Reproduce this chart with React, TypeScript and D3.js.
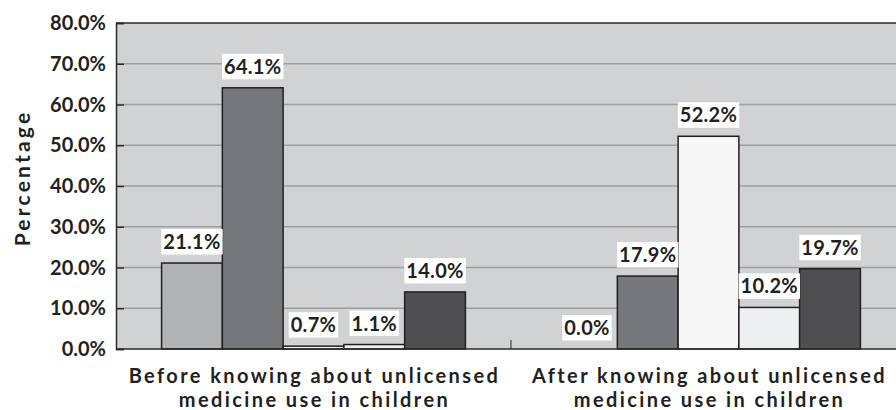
import React, { useRef, useEffect } from "react";
import * as d3 from "d3";

const categories = [
  ["Before knowing about unlicensed", "medicine use in children"],
  ["After knowing about unlicensed", "medicine use in children"],
];
const seriesKeys = ["s1", "s2", "s3", "s4", "s5"];
const beforeValues = [21.1, 64.1, 0.7, 1.1, 14.0];
const afterValues = [0.0, 17.9, 52.2, 10.2, 19.7];
const yTicks = [0, 10, 20, 30, 40, 50, 60, 70, 80];
const seriesColors = ["#b1b2b4", "#76777b", "#f7f7f7", "#eeeff1", "#4f4f52"];

const WIDTH = 896;
const HEIGHT = 410;
const FONT = "Lato, 'Open Sans', sans-serif";

const App = () => {
  const svgRef = useRef(null);

  useEffect(() => {
    const svg = d3.select(svgRef.current);
    svg.selectAll("*").remove();

    const left = 116;
    const right = 906;
    const top = 23;
    const bottom = 349;

    const groups = [beforeValues, afterValues];
    const x0 = d3.scaleBand().domain(categories.map((c, i) => String(i))).range([left, right]).padding(0);
    const x1 = d3.scaleBand().domain(seriesKeys).range([0, x0.bandwidth()]).paddingInner(0).paddingOuter(0.75);
    const y = d3.scaleLinear().domain([0, 80]).range([bottom, top]);

    // plot background
    svg
      .append("rect")
      .attr("x", left)
      .attr("y", top)
      .attr("width", right - left)
      .attr("height", bottom - top)
      .attr("fill", "#d1d2d4");

    // gridlines
    svg
      .selectAll(".grid")
      .data(yTicks.filter((t) => t > 0 && t < 80))
      .enter()
      .append("line")
      .attr("x1", left)
      .attr("x2", right)
      .attr("y1", (d) => y(d))
      .attr("y2", (d) => y(d))
      .attr("stroke", "#9d9ea0")
      .attr("stroke-width", 1.5);

    // top border
    svg
      .append("line")
      .attr("x1", left)
      .attr("x2", right)
      .attr("y1", y(80))
      .attr("y2", y(80))
      .attr("stroke", "#2b2b2d")
      .attr("stroke-width", 1.5);

    // bars
    groups.forEach((vals, gi) => {
      const gx = x0(String(gi));
      svg
        .append("g")
        .selectAll("rect")
        .data(vals)
        .enter()
        .append("rect")
        .attr("x", (d, i) => gx + x1(seriesKeys[i]))
        .attr("y", (d) => y(d))
        .attr("width", x1.bandwidth())
        .attr("height", (d) => y(0) - y(d))
        .attr("fill", (d, i) => seriesColors[i])
        .attr("stroke", "#231f20")
        .attr("stroke-width", 1.5);
    });

    // left axis, ticks point inward
    const yAxis = svg
      .append("g")
      .attr("transform", `translate(${left},0)`)
      .call(d3.axisRight(y).tickValues(yTicks).tickSize(8).tickFormat(() => ""));
    yAxis.select(".domain").attr("stroke", "#2b2b2d").attr("stroke-width", 1.5);
    yAxis.selectAll(".tick line").attr("stroke", "#2b2b2d").attr("stroke-width", 1.5);

    svg
      .append("g")
      .selectAll("text")
      .data(yTicks)
      .enter()
      .append("text")
      .attr("x", 106)
      .attr("y", (d) => y(d) + 7)
      .attr("text-anchor", "end")
      .style("font-family", FONT)
      .style("font-weight", 700)
      .style("font-size", "20px")
      .attr("fill", "#231f20")
      .text((d) => d.toFixed(1) + "%");

    // bottom axis
    svg
      .append("line")
      .attr("x1", left)
      .attr("x2", right)
      .attr("y1", bottom)
      .attr("y2", bottom)
      .attr("stroke", "#2b2b2d")
      .attr("stroke-width", 1.5);
    svg
      .selectAll(".xtick")
      .data([left + x0.bandwidth()])
      .enter()
      .append("line")
      .attr("x1", (d) => d)
      .attr("x2", (d) => d)
      .attr("y1", bottom)
      .attr("y2", bottom - 9)
      .attr("stroke", "#2b2b2d")
      .attr("stroke-width", 1);

    // value labels with white boxes
    groups.forEach((vals, gi) => {
      const gx = x0(String(gi));
      vals.forEach((v, i) => {
        const cx = gx + x1(seriesKeys[i]) + x1.bandwidth() / 2;
        const baseline = y(v) - 14;
        const lg = svg.append("g");
        const box = lg.append("rect").attr("fill", "#ffffff");
        const t = lg
          .append("text")
          .attr("x", cx)
          .attr("y", baseline)
          .attr("text-anchor", "middle")
          .style("font-family", FONT)
          .style("font-weight", 700)
          .style("font-size", "20px")
          .style("letter-spacing", "0.3px")
          .attr("fill", "#231f20")
          .text(v.toFixed(1) + "%");
        const w = t.node().getComputedTextLength();
        box
          .attr("x", cx - w / 2 - 2)
          .attr("y", baseline - 20)
          .attr("width", w + 4)
          .attr("height", 25.5);
      });
    });

    // category labels
    categories.forEach((lines, gi) => {
      const cx = x0(String(gi)) + x0.bandwidth() / 2;
      const t = svg
        .append("text")
        .attr("text-anchor", "middle")
        .style("font-family", FONT)
        .style("font-weight", 700)
        .style("font-size", "20px")
        .style("letter-spacing", "2.4px")
        .attr("fill", "#231f20");
      lines.forEach((ln, li) => {
        t.append("tspan")
          .attr("x", cx + 1)
          .attr("y", 383 + li * 24)
          .text(ln);
      });
    });

    // y axis title
    svg
      .append("text")
      .attr("transform", `translate(30,178) rotate(-90)`)
      .attr("text-anchor", "middle")
      .style("font-family", FONT)
      .style("font-weight", 700)
      .style("font-size", "21px")
      .style("letter-spacing", "3.2px")
      .attr("fill", "#231f20")
      .text("Percentage");
  }, []);

  return (
    <svg
      ref={svgRef}
      width={WIDTH}
      height={HEIGHT}
      style={{ position: "absolute", left: 0, top: 0, background: "#ffffff" }}
    />
  );
};

export default App;
